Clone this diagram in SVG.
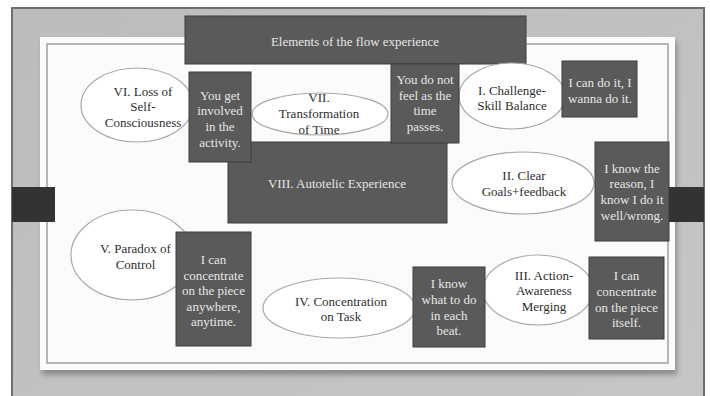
<svg xmlns="http://www.w3.org/2000/svg" width="710" height="396" viewBox="0 0 710 396" font-family="'Liberation Serif', 'DejaVu Serif', serif">
<defs>
<linearGradient id="bg" x1="0" y1="0" x2="1" y2="1">
<stop offset="0" stop-color="#bcbcbc"/>
<stop offset="1" stop-color="#c6c6c6"/>
</linearGradient>
<filter id="sh" x="-5%" y="-5%" width="110%" height="120%">
<feGaussianBlur stdDeviation="2.5"/>
</filter>
</defs>
<style>
text{font-family:'Liberation Serif','DejaVu Serif',serif;font-size:13px;text-anchor:middle}
.box{fill:#5a5a5a;stroke:#3c3c3c;stroke-width:1}
.bt{fill:#e6e6e6}
.ell{fill:#ffffff;stroke:#a8a8a8;stroke-width:1.2}
.et{fill:#2e2e2e}
.tab{fill:#333333}
</style>
<rect x="0" y="0" width="710" height="396" fill="#ffffff"/>
<g id="frame">
<rect x="12" y="8" width="692" height="392" fill="url(#bg)" stroke="#6e6e6e" stroke-width="2"/>
<rect x="42" y="42" width="635" height="333" fill="#555555" opacity="0.5" filter="url(#sh)"/>
<rect x="40" y="37" width="635" height="333" fill="#fbfbfb"/>
<rect x="47" y="44" width="621" height="319" fill="none" stroke="#a0a0a0" stroke-width="1.5"/>
<rect class="tab" x="12" y="187" width="43" height="35"/>
<rect class="tab" x="669" y="187" width="35" height="35"/>
</g>
<g id="title">
<rect class="box" x="185" y="16" width="341" height="48"/>
<text class="bt" x="355" y="45.5">Elements of the flow experience</text>
</g>
<g id="n8">
<rect class="box" x="228" y="142" width="219" height="81"/>
<text class="bt" x="337" y="187.5">VIII. Autotelic Experience</text>
</g>
<g id="n6">
<ellipse class="ell" cx="137" cy="105" rx="56" ry="37"/>
<text class="et" x="143" y="95.5">VI. Loss of</text>
<text class="et" x="143" y="110.5">Self-</text>
<text class="et" x="143" y="126.5">Consciousness</text>
</g>
<g id="n7">
<ellipse class="ell" cx="320" cy="114" rx="68" ry="21"/>
<text class="et" x="319" y="101.5">VII.</text>
<text class="et" x="319" y="118">Transformation</text>
<text class="et" x="319" y="133.5">of Time</text>
</g>
<g id="n1">
<ellipse class="ell" cx="512" cy="96" rx="53" ry="33"/>
<text class="et" x="512" y="94.5">I. Challenge-</text>
<text class="et" x="512" y="109.5">Skill Balance</text>
</g>
<g id="n2">
<ellipse class="ell" cx="523" cy="183" rx="71" ry="31"/>
<text class="et" x="524" y="179.5">II. Clear</text>
<text class="et" x="524" y="196">Goals+feedback</text>
</g>
<g id="n5">
<ellipse class="ell" cx="132" cy="255" rx="61" ry="45"/>
<text class="et" x="135.5" y="252.5">V. Paradox of</text>
<text class="et" x="135.5" y="268.5">Control</text>
</g>
<g id="n4">
<ellipse class="ell" cx="339" cy="308" rx="76" ry="30"/>
<text class="et" x="341" y="305.5">IV. Concentration</text>
<text class="et" x="341" y="320.5">on Task</text>
</g>
<g id="n3">
<ellipse class="ell" cx="538" cy="290" rx="55" ry="35"/>
<text class="et" x="544" y="279.5">III. Action-</text>
<text class="et" x="544" y="294.5">Awareness</text>
<text class="et" x="544" y="310.5">Merging</text>
</g>
<g id="d6">
<rect class="box" x="189" y="72" width="62" height="90"/>
<text class="bt" x="220" y="99.5">You get</text>
<text class="bt" x="220" y="114.5">involved</text>
<text class="bt" x="220" y="130.5">in the</text>
<text class="bt" x="220" y="146.5">activity.</text>
</g>
<g id="d7">
<rect class="box" x="391" y="64" width="68" height="79"/>
<text class="bt" x="425" y="83.5">You do not</text>
<text class="bt" x="425" y="99.5">feel as the</text>
<text class="bt" x="425" y="114.5">time</text>
<text class="bt" x="425" y="131">passes.</text>
</g>
<g id="d1">
<rect class="box" x="562" y="61" width="75" height="56"/>
<text class="bt" x="600" y="86.5">I can do it, I</text>
<text class="bt" x="600" y="102.5">wanna do it.</text>
</g>
<g id="d2">
<rect class="box" x="595" y="142" width="74" height="99"/>
<text class="bt" x="632" y="172.5">I know the</text>
<text class="bt" x="632" y="188">reason, I</text>
<text class="bt" x="632" y="204">know I do it</text>
<text class="bt" x="632" y="219.5">well/wrong.</text>
</g>
<g id="d5">
<rect class="box" x="176" y="232" width="75" height="114"/>
<text class="bt" x="213.5" y="263.5">I can</text>
<text class="bt" x="213.5" y="279.5">concentrate</text>
<text class="bt" x="213.5" y="294.5">on the piece</text>
<text class="bt" x="213.5" y="310.5">anywhere,</text>
<text class="bt" x="213.5" y="325.5">anytime.</text>
</g>
<g id="d4">
<rect class="box" x="413" y="267" width="72" height="80"/>
<text class="bt" x="449" y="288">I know</text>
<text class="bt" x="449" y="303.5">what to do</text>
<text class="bt" x="449" y="319.5">in each</text>
<text class="bt" x="449" y="334.5">beat.</text>
</g>
<g id="d3">
<rect class="box" x="589" y="257" width="75" height="82"/>
<text class="bt" x="626.5" y="280">I can</text>
<text class="bt" x="626.5" y="295.5">concentrate</text>
<text class="bt" x="626.5" y="311.5">on the piece</text>
<text class="bt" x="626.5" y="326.5">itself.</text>
</g>
</svg>
